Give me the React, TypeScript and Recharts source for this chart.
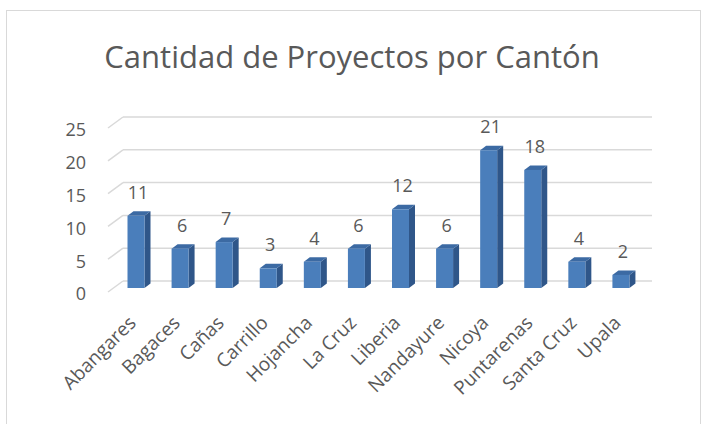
import React from 'react';
import { BarChart, Bar, XAxis, YAxis, CartesianGrid, LabelList } from 'recharts';

const cantones = ['Abangares', 'Bagaces', 'Cañas', 'Carrillo', 'Hojancha', 'La Cruz', 'Liberia', 'Nandayure', 'Nicoya', 'Puntarenas', 'Santa Cruz', 'Upala'];
const proyectos = [11, 6, 7, 3, 4, 6, 12, 6, 21, 18, 4, 2];
const yTicks = [0, 5, 10, 15, 20, 25];
const title = 'Cantidad de Proyectos por Cantón';

const data = cantones.map((c, i) => ({ canton: c, proyectos: proyectos[i] }));

const FONT = '"Open Sans", sans-serif';
const TEXT = '#595959';
const GRID = '#d9d9d9';
const DX = 15;
const DY = 11;
const BX = 5.5;
const BY = 4;
const SX = 6;
const SY = 4.5;

const Bar3D = (props: any) => {
  const { x, y, width, height } = props;
  if (height == null || width == null) return null;
  const fx = x + BX;
  const fy = y - BY;
  const r = fx + width;
  const b = fy + height;
  return (
    <g>
      <polygon points={`${r},${fy} ${r + SX},${fy - SY} ${r + SX},${b - SY} ${r},${b}`} fill="#2f5689" />
      <polygon points={`${fx},${fy} ${fx + SX},${fy - SY} ${r + SX},${fy - SY} ${r},${fy}`} fill="#3c6aa3" />
      <rect x={fx} y={fy} width={width} height={height} fill="#4a7ebb" />
    </g>
  );
};

const GridLine = (props: any) => {
  const { x1, x2, y1 } = props;
  return (
    <g key={`g-${y1}`}>
      <line x1={x1} y1={y1} x2={x1 + DX} y2={y1 - DY} stroke={GRID} strokeWidth={1.5} />
      <line x1={x1 + DX} y1={y1 - DY} x2={x2 + DX} y2={y1 - DY} stroke={GRID} strokeWidth={1.5} />
    </g>
  );
};

const YTick = (props: any) => {
  const { y, payload } = props;
  return (
    <text x={86} y={y + 2} dy="0.35em" textAnchor="end" fontFamily={FONT} fontSize={18} fill={TEXT}>
      {payload.value}
    </text>
  );
};

const XTick = (props: any) => {
  const { x, payload } = props;
  const ax = x + 7;
  const ay = 324;
  return (
    <text x={ax} y={ay} textAnchor="end" fontFamily={FONT} fontSize={19} fill={TEXT} transform={`rotate(-45, ${ax}, ${ay})`}>
      {payload.value}
    </text>
  );
};

const ValueLabel = (props: any) => {
  const { x, y, width, value } = props;
  return (
    <text x={x + BX + width / 2 + 2} y={y - BY - 17} textAnchor="middle" fontFamily={FONT} fontSize={18} fill={TEXT}>
      {value}
    </text>
  );
};

export default function App() {
  return (
    <div style={{ position: 'absolute', left: 0, top: 0, width: 704, height: 424, background: '#fff', overflow: 'hidden' }}>
      <svg width={704} height={424} style={{ position: 'absolute', left: 0, top: 0 }}>
        <rect x={6.5} y={10.5} width={694} height={430} fill="#fff" stroke={GRID} strokeWidth={1} />
        <text x={352} y={68} textAnchor="middle" fontFamily={FONT} fontSize={31} fill={TEXT}>
          {title}
        </text>
      </svg>
      <div style={{ position: 'absolute', left: 0, top: 0 }}>
        <BarChart width={704} height={424} data={data} margin={{ top: 128, right: 67, bottom: 32, left: 68 }} barSize={17}>
          <CartesianGrid vertical={false} horizontal={GridLine as any} stroke={GRID} />
          <XAxis dataKey="canton" axisLine={false} tickLine={false} interval={0} height={100} tick={XTick as any} />
          <YAxis domain={[0, 25]} ticks={yTicks} axisLine={false} tickLine={false} width={40} tick={YTick as any} />
          <Bar dataKey="proyectos" shape={Bar3D as any} isAnimationActive={false}>
            <LabelList dataKey="proyectos" content={ValueLabel as any} />
          </Bar>
        </BarChart>
      </div>
    </div>
  );
}
